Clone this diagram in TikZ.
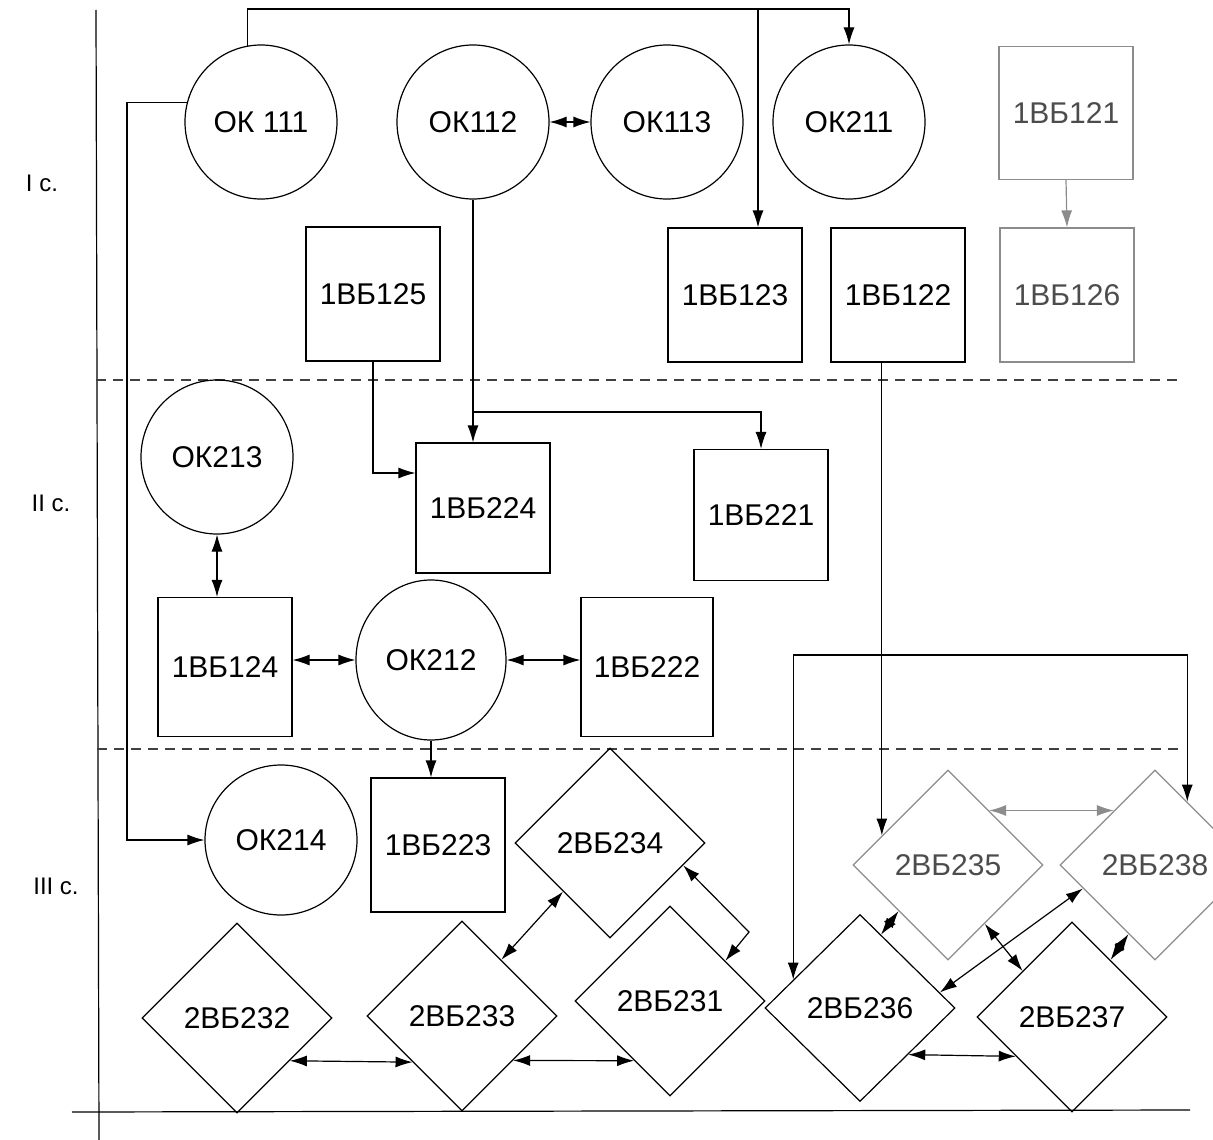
\documentclass[tikz,border=0pt]{standalone}
\usepackage{fontspec}
\setmainfont{Liberation Sans}
\usepackage{tikz}
\usetikzlibrary{arrows}
\usetikzlibrary{arrows.meta}
\usetikzlibrary{shapes.geometric}
\newcommand{\blockfont}{\fontsize{30}{32}\selectfont}
\newcommand{\levelfont}{\fontsize{24}{26}\selectfont}
\tikzset{
    ok/.style={draw, ellipse, minimum width=152pt, minimum height=154pt, inner sep=0pt, font=\blockfont},
    bb/.style={draw, rectangle, minimum width=134pt, minimum height=134pt, inner sep=0pt, font=\blockfont},
    vb/.style={draw, diamond, aspect=1, minimum width=190pt, minimum height=190pt, inner sep=0pt, font=\blockfont},
    faint/.style={draw=black!45, text=black!70},
    level/.style={font=\levelfont},
    layerline/.style={dash pattern=on 10pt off 7pt, draw=black!75}
}
\begin{document}
\begin{tikzpicture}[x=1pt, y=-1pt, line width=1.2pt, >={Latex[length=17pt,width=11pt]}]
    \useasboundingbox (0,0) rectangle (1213,1140);

    \node[level] (lvl1) at (42,183) {I с.};
    \node[level] (lvl2) at (51,503) {II с.};
    \node[level] (lvl3) at (56,886) {III с.};

    \draw (96,10) -- (99,1140);
    \draw (72,1112) -- (1190,1110);
    \draw[layerline] (96,380) -- (1180,380);
    \draw[layerline] (97,749) -- (1180,749);

    \node[ok] (ok111) at (261,122) {ОК 111};
    \node[ok] (ok112) at (473,122) {ОК112};
    \node[ok] (ok113) at (667,122) {ОК113};
    \node[ok] (ok211) at (849,122) {ОК211};
    \node[bb, faint, minimum height=133pt] (bb121) at (1066,113) {1ВБ121};
    \node[bb] (bb125) at (373,294) {1ВБ125};
    \node[bb] (bb123) at (735,295) {1ВБ123};
    \node[bb] (bb122) at (898,295) {1ВБ122};
    \node[bb, faint] (bb126) at (1067,295) {1ВБ126};

    \node[ok] (ok213) at (217,457) {ОК213};
    \node[bb, minimum height=130pt] (bb224) at (483,508) {1ВБ224};
    \node[bb, minimum height=131pt] (bb221) at (761,515) {1ВБ221};
    \node[bb, minimum height=139pt] (bb124) at (225,667) {1ВБ124};
    \node[ok, minimum width=150pt, minimum height=160pt] (ok212) at (431,660) {ОК212};
    \node[bb, minimum width=132pt, minimum height=139pt] (bb222) at (647,667) {1ВБ222};

    \node[ok, minimum height=150pt] (ok214) at (281,840) {ОК214};
    \node[bb] (bb223) at (438,845) {1ВБ223};
    \node[vb] (vb234) at (610,843) {2ВБ234};
    \node[vb, faint] (vb235) at (948,865) {2ВБ235};
    \node[vb, faint] (vb238) at (1155,865) {2ВБ238};
    \node[vb] (vb232) at (237,1018) {2ВБ232};
    \node[vb] (vb233) at (462,1016) {2ВБ233};
    \node[vb] (vb231) at (670,1001) {2ВБ231};
    \node[vb, minimum height=187pt] (vb236) at (860,1008) {2ВБ236};
    \node[vb] (vb237) at (1072,1017) {2ВБ237};

    \coordinate (rail) at (0,9);
    \coordinate (lbus) at (127,0);
    \coordinate (fork) at (473,412);
    \coordinate (loop) at (0,655);
    \coordinate (bend) at (749,932);

    \draw[->] (ok111.100) -- (ok111.100 |- rail) -| (ok211.north);
    \draw[->] ([xshift=23pt]bb123.north |- rail) -- ([xshift=23pt]bb123.north);
    \draw[->] (ok111.165) -| (lbus |- ok214.west) -- (ok214.west);
    \draw[<->] (ok112) -- (ok113);
    \draw[->] (ok112.south) -- (ok112.south |- bb224.north);
    \draw[->] (fork) -| (bb221.north);
    \draw[->] (bb125.south) |- ([yshift=35pt]bb224.west);
    \draw[->, faint] (bb121.south) -- (bb126.north);
    \draw[->] (bb122.south -| vb235.156) -- (vb235.156);

    \draw[<->] (ok213.south) -- (ok213.south |- bb124.north);
    \draw[<->] (ok212.west -| bb124.east) -- (ok212.west);
    \draw[<->] (ok212.east) -- (ok212.east -| bb222.west);
    \draw[->] (ok212.south) -- (ok212.south |- bb223.north);

    \draw[<->] (vb236.157) -- (vb236.157 |- loop) -| (vb238.63);
    \draw[<->] (vb234.226) -- (vb233.55);
    \draw[<->] (vb234.343) -- (bend) -- (vb231.36);
    \draw[<->] (vb232.321) -- (vb233.223);
    \draw[<->] (vb233.319) -- (vb231.239);
    \draw[<->] (vb236.316) -- (vb237.215);
    \draw[<->] (vb235.223) -- (vb236.74);
    \draw[<->] (vb238.198) -- (vb236.11);
    \draw[<->] (vb235.302) -- (vb237.137);
    \draw[<->] (vb238.249) -- (vb237.56);
    \draw[<->, faint] (vb235.53) -- (vb238.127);
\end{tikzpicture}
\end{document}
